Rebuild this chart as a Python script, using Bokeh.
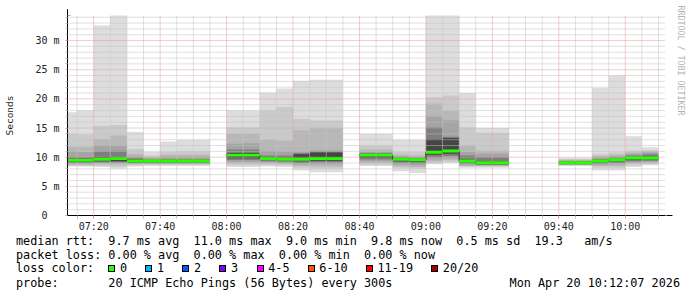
import numpy as np
from bokeh.plotting import figure
from bokeh.models import Range1d, FixedTicker, Arrow, NormalHead, Title, Div
from bokeh.layouts import column
from bokeh.embed import file_html
from bokeh.resources import INLINE

NaN = float("nan")

# ---------------- data ----------------
bin_start = ["07:10", "07:15", "07:20", "07:25", "07:30", "07:35", "07:40", "07:45", "07:50", "07:55",
             "08:00", "08:05", "08:10", "08:15", "08:20", "08:25", "08:30", "08:35",
             "08:40", "08:45", "08:50", "08:55", "09:00", "09:05", "09:10", "09:15", "09:20",
             "09:25", "09:30", "09:35",
             "09:40", "09:45", "09:50", "09:55", "10:00", "10:05", "10:10"]

# smoke bands (outer -> inner), values in ms
hi1 = [17.7, 18.0, 32.6, 35.0, 14.3, 10.9, 12.7, 13.0, 13.0, NaN,
       18.0, 18.0, 21.1, 21.8, 23.1, 23.3, 23.3, NaN,
       14.0, 14.0, 13.0, 13.0, 35.0, 35.0, 21.0, 15.0, 15.0, NaN, NaN, NaN,
       9.9, 9.9, 21.9, 24.0, 13.6, 11.7, NaN]
hi2 = [14.0, 13.9, 15.4, 15.5, 11.4, 10.3, 10.9, 11.0, 11.0, NaN,
       15.1, 15.1, 18.0, 18.6, 16.6, 16.3, 16.3, NaN,
       12.0, 12.0, 10.9, 10.9, 20.3, 20.6, 15.1, 14.2, 14.2, NaN, NaN, NaN,
       9.7, 9.7, 10.5, 10.8, 11.1, 11.2, NaN]
hi3 = [11.8, 11.8, 13.1, 13.7, 10.6, 10.0, 10.4, 10.4, 10.4, NaN,
       14.0, 14.0, 13.0, 12.8, 14.6, 14.9, 14.9, NaN,
       11.3, 11.3, 10.4, 10.3, 19.2, 18.0, 12.0, 11.1, 11.1, NaN, NaN, NaN,
       9.5, 9.5, 10.2, 10.4, 10.8, 11.0, NaN]
hi4 = [11.0, 10.9, 12.0, 12.0, 10.1, 9.8, 10.0, 10.0, 10.0, NaN,
       12.3, 12.4, 11.1, 11.0, 11.0, 11.2, 11.2, NaN,
       10.9, 10.9, 10.1, 10.0, 17.1, 16.3, 10.9, 10.6, 10.6, NaN, NaN, NaN,
       9.4, 9.4, 9.9, 10.1, 10.6, 10.8, NaN]
hi5 = [10.0, 10.0, 11.0, 11.1, 9.8, 9.6, 9.7, 9.7, 9.7, NaN,
       11.3, 11.3, 10.3, 10.3, 10.7, 11.0, 11.0, NaN,
       10.7, 10.7, 10.0, 9.9, 15.1, 13.5, 10.3, 10.0, 10.0, NaN, NaN, NaN,
       9.3, 9.3, 9.7, 9.9, 10.3, 10.5, NaN]
hi6 = [9.7, 9.7, 10.0, 10.0, 9.6, 9.5, 9.5, 9.5, 9.5, NaN,
       10.7, 10.7, 10.0, 9.9, 10.5, 10.8, 10.8, NaN,
       10.5, 10.5, 9.8, 9.7, 13.1, 13.3, 9.6, 9.3, 9.3, NaN, NaN, NaN,
       9.1, 9.1, 9.5, 9.7, 10.0, 10.1, NaN]
median = [9.4, 9.4, 9.6, 9.7, 9.3, 9.3, 9.3, 9.3, 9.3, NaN,
          10.3, 10.3, 9.7, 9.6, 9.6, 9.7, 9.7, NaN,
          10.3, 10.3, 9.6, 9.5, 10.8, 11.0, 9.3, 9.0, 9.0, NaN, NaN, NaN,
          9.0, 9.0, 9.3, 9.5, 9.8, 9.8, NaN]
lo6 = [9.2, 9.2, 9.3, 9.3, 9.1, 9.1, 9.1, 9.1, 9.1, NaN,
       9.8, 9.8, 9.5, 9.4, 9.3, 9.4, 9.4, NaN,
       9.9, 9.9, 9.3, 9.2, 10.4, 10.6, 9.1, 8.8, 8.8, NaN, NaN, NaN,
       8.85, 8.85, 9.1, 9.3, 9.5, 9.6, NaN]
lo5 = [9.0, 9.0, 9.1, 9.1, 9.0, 9.0, 9.0, 9.0, 9.0, NaN,
       9.5, 9.5, 9.3, 9.2, 9.0, 9.1, 9.1, NaN,
       9.6, 9.6, 9.0, 8.9, 10.0, 10.2, 8.9, 8.7, 8.7, NaN, NaN, NaN,
       8.8, 8.8, 8.9, 9.0, 9.3, 9.4, NaN]
lo4 = [8.9, 8.9, 9.0, 9.0, 8.9, 8.9, 8.9, 8.9, 8.9, NaN,
       9.2, 9.2, 9.1, 9.0, 8.8, 8.8, 8.8, NaN,
       9.3, 9.3, 8.7, 8.6, 9.6, 9.8, 8.7, 8.6, 8.6, NaN, NaN, NaN,
       8.7, 8.7, 8.7, 8.8, 9.1, 9.2, NaN]
lo3 = [8.7, 8.7, 8.8, 8.7, 8.8, 8.8, 8.8, 8.8, 8.8, NaN,
       8.9, 8.9, 8.9, 8.8, 8.5, 8.4, 8.4, NaN,
       9.0, 9.0, 8.4, 8.3, 9.3, 9.5, 8.5, 8.5, 8.5, NaN, NaN, NaN,
       8.65, 8.65, 8.5, 8.5, 8.9, 9.0, NaN]
lo2 = [8.5, 8.5, 8.5, 8.3, 8.6, 8.7, 8.7, 8.7, 8.7, NaN,
       8.6, 8.6, 8.6, 8.6, 8.2, 8.0, 8.0, NaN,
       8.7, 8.7, 8.2, 8.0, 9.0, 9.2, 8.4, 8.4, 8.4, NaN, NaN, NaN,
       8.6, 8.6, 8.2, 8.2, 8.6, 8.8, NaN]
lo1 = [8.4, 8.4, 8.3, 8.0, 8.4, 8.5, 8.5, 8.5, 8.5, NaN,
       8.3, 8.3, 8.4, 8.3, 7.7, 7.4, 7.4, NaN,
       8.5, 8.5, 7.6, 7.3, 8.8, 9.0, 8.2, 8.2, 8.2, NaN, NaN, NaN,
       8.5, 8.5, 7.7, 7.7, 8.3, 8.6, NaN]

x_tick_labels = ["07:20", "07:40", "08:00", "08:20", "08:40", "09:00", "09:20", "09:40", "10:00"]
y_tick_values = [0, 5, 10, 15, 20, 25, 30]
y_tick_labels = ["0\u00a0\u00a0", "5 m", "10 m", "15 m", "20 m", "25 m", "30 m"]

legend_lines = [
    "median rtt:  9.7 ms avg  11.0 ms max  9.0 ms min  9.8 ms now  0.5 ms sd  19.3   am/s",
    "packet loss: 0.00 % avg  0.00 % max  0.00 % min  0.00 % now",
    "loss color:",
    "probe:       20 ICMP Echo Pings (56 Bytes) every 300s",
]
loss_labels = ["0", "1", "2", "3", "4-5", "6-10", "11-19", "20/20"]
loss_colors = ["#26ff00", "#00b8ff", "#0059ff", "#7e00ff", "#ff00ff", "#ff5500", "#ff0000", "#a10000"]
timestamp = "Mon Apr 20 10:12:07 2026"
watermark = "RRDTOOL / TOBI OETIKER"

# ---------------- helpers ----------------
def to_min(s):
    h, m = s.split(":")
    return int(h) * 60 + int(m)

t0 = np.array([to_min(s) for s in bin_start], dtype=float)
t1 = t0 + 5.0
x_start = to_min("07:12") + 7 / 60.0
x_end = x_start + 180.0
y_top = 34.3

W = 697
PH = 235                                  # graph part height
FL, FR, FT, FB = 67, 30, 15, 20           # frame borders (px)
FW, FH = W - FL - FR, PH - FT - FB        # 600 x 200

def px_x(px):   # canvas px -> data x
    return x_start + (px - FL) * (x_end - x_start) / FW

def px_y(py):   # canvas px -> data y
    return (PH - FB - py) * y_top / FH

MONO = "DejaVu Sans Mono"
GRID_MIN = "#c0c0c0"
GRID_MAJ = "#e49a9a"

p = figure(width=W, height=PH, x_range=Range1d(x_start, x_end), y_range=Range1d(0, y_top),
           output_backend="svg", toolbar_location=None,
           min_border_left=FL, min_border_right=FR, min_border_top=FT, min_border_bottom=FB)
p.outline_line_color = None
p.background_fill_color = "white"
p.border_fill_color = "white"
p.xgrid.visible = False
p.ygrid.visible = False

# smoke layers
smoke_colors = ["#dddddd", "#cacaca", "#b7b7b7", "#a4a4a4", "#7e7e7e", "#454545"]
his = [hi1, hi2, hi3, hi4, hi5, hi6]
los = [lo1, lo2, lo3, lo4, lo5, lo6]
for c, hi, lo in zip(smoke_colors, his, los):
    p.quad(left=t0, right=t1, bottom=np.array(lo), top=np.array(hi),
           fill_color=c, line_color=None)

# ticks
major_x = [to_min(s) for s in x_tick_labels]
minor_x = [m for m in range(to_min("07:15"), int(x_end) + 1, 5) if m not in major_x]
minor_y = [v for v in range(1, 35) if v % 5 != 0]
major_y = [v for v in y_tick_values if v > 0]
xt = FixedTicker(ticks=major_x, minor_ticks=minor_x)
yt = FixedTicker(ticks=y_tick_values, minor_ticks=minor_y)
p.xaxis.ticker = xt
p.yaxis.ticker = yt
p.xaxis.major_label_overrides = {k: v for k, v in zip(major_x, x_tick_labels)}
p.yaxis.major_label_overrides = {k: v for k, v in zip(y_tick_values, y_tick_labels)}

# dotted grid drawn over the smoke (as rrdtool does)
p.segment(x0=minor_x, x1=minor_x, y0=[0] * len(minor_x), y1=[y_top] * len(minor_x),
          line_color=GRID_MIN, line_width=1, line_dash="1 1")
p.segment(x0=[x_start] * len(minor_y), x1=[x_end] * len(minor_y), y0=minor_y, y1=minor_y,
          line_color=GRID_MIN, line_width=1, line_dash="1 1")
p.segment(x0=major_x, x1=major_x, y0=[0] * len(major_x), y1=[y_top] * len(major_x),
          line_color=GRID_MAJ, line_width=1, line_dash="1 1")
p.segment(x0=[x_start] * len(major_y), x1=[x_end] * len(major_y), y0=major_y, y1=major_y,
          line_color=GRID_MAJ, line_width=1, line_dash="1 1")

# median line (black steps) + green loss band
med = np.array(median)
sx = np.column_stack([t0, t1]).ravel()
sy = np.column_stack([med, med]).ravel()
p.line(sx, sy, line_color="#202020", line_width=1)
p.quad(left=t0, right=t1, bottom=med - 0.2, top=med + 0.3, fill_color=loss_colors[0],
       line_color=None)

for ax in (p.xaxis[0], p.yaxis[0]):
    ax.axis_line_color = "black"
    ax.axis_line_width = 1
    ax.major_label_text_font = MONO
    ax.major_label_text_font_size = "10px"
    ax.major_label_text_color = "#222222"
    ax.major_tick_in = 0
    ax.minor_tick_in = 0
    ax.major_tick_line_color = GRID_MAJ
    ax.minor_tick_line_color = GRID_MIN

p.xaxis.major_tick_out = 3
p.xaxis.minor_tick_out = 3
p.xaxis.major_label_standoff = 2
p.yaxis.major_tick_out = 2
p.yaxis.minor_tick_out = 2
p.yaxis.major_label_standoff = 6
p.yaxis.axis_label = "Seconds"
p.yaxis.axis_label_text_font = MONO
p.yaxis.axis_label_text_font_size = "9.5px"
p.yaxis.axis_label_text_font_style = "normal"
p.yaxis.axis_label_text_color = "#222222"
p.yaxis.axis_label_standoff = 17

# axis arrows
head_col = "#8b1a1a"
p.add_layout(Arrow(end=NormalHead(size=6, fill_color=head_col, line_color=head_col),
                   x_start=x_end - 0.5, y_start=0, x_end=px_x(674), y_end=0,
                   line_color="black", line_width=1))
p.add_layout(Arrow(end=NormalHead(size=6, fill_color=head_col, line_color=head_col),
                   x_start=x_start, y_start=y_top - 0.2, x_end=x_start, y_end=px_y(8.7),
                   line_color="black", line_width=1))

# watermark on the right side
p.add_layout(Title(text=watermark, align="left", offset=-10, standoff=20,
                   text_font=MONO, text_font_size="8.3px", text_font_style="normal",
                   text_color="#b4b4b4"), "right")

# ---------------- legend below the graph (real text, monospace) ----------------
TX0 = 16
line_top = [-1.0, 12.5, 26.0, 40.5]       # relative to the legend block
FONT = "font-family:'DejaVu Sans Mono',monospace;font-size:11.8px;line-height:14px;color:#000;"

parts = []
for line, top in zip(legend_lines, line_top):
    parts.append(f'<div style="position:absolute;left:{TX0}px;top:{top}px;white-space:pre;{FONT}">{line}</div>')
parts.append(f'<div style="position:absolute;right:{W - 680}px;top:{line_top[3]}px;white-space:pre;{FONT}">{timestamp}</div>')

cur = 108.3
box_top = line_top[2] + 7 - 3.5
for lab, col in zip(loss_labels, loss_colors):
    parts.append(f'<div style="position:absolute;left:{cur:.1f}px;top:{box_top}px;width:7px;height:7px;'
                 f'box-sizing:border-box;border:1px solid #000;background:{col};"></div>')
    parts.append(f'<div style="position:absolute;left:{cur + 11.7:.1f}px;top:{line_top[2]}px;white-space:pre;{FONT}">{lab}</div>')
    cur += 30 + 7.05 * len(lab)

html = ('<div style="position:relative;width:697px;height:62px;margin:0;padding:0;'
        'background:#fff;overflow:visible;">' + "".join(parts) + "</div>")
legend_div = Div(text=html, width=W, height=297 - PH, margin=0)

layout = column(p, legend_div, spacing=0)
open("out.html", "w").write(file_html(layout, INLINE))
